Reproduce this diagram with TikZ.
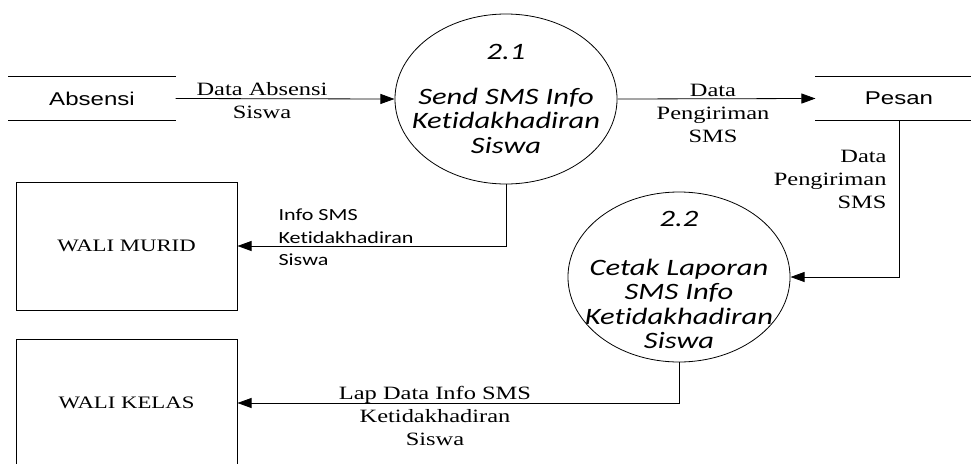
\documentclass[tikz,border=0pt]{standalone}
\usepackage{fontspec}
\newfontfamily\storefont{Liberation Sans}
\newfontfamily\procfont[Ligatures=NoCommon]{Carlito}
\newfontfamily\flowfont{Liberation Serif}
\usetikzlibrary{positioning,shapes.geometric,arrows.meta}

\begin{document}
\begin{tikzpicture}[x=1pt,y=-1pt,line width=0.8pt,
    wide/.style={xscale=1.3},
    store/.style={wide,minimum width=127.7pt,minimum height=43pt,inner sep=0pt,
      font=\storefont\fontsize{18.5}{22}\selectfont},
    process/.style={wide,draw,ellipse,minimum width=170.8pt,minimum height=170pt,inner sep=0pt},
    proctext/.style={wide,inner sep=0pt,align=center,
      font=\procfont\itshape\fontsize{23.5}{24.5}\selectfont},
    entity/.style={wide,draw,rectangle,minimum width=170pt,minimum height=128pt,
      inner sep=0pt,font=\flowfont\fontsize{17.5}{22}\selectfont},
    flowlabel/.style={wide,inner sep=0pt,align=center,font=\flowfont\fontsize{18.8}{23}\selectfont},
    flow/.style={-{Triangle[length=14pt,width=10pt]}}]
    \useasboundingbox (0,0) rectangle (971,463);

    %data stores
    \node[store] (absensi) at (92,98.5) {Absensi};
    \node[store] (pesan) at (899,98.5) {Pesan};
    \foreach \s in {absensi,pesan} {
      \draw (\s.north west) -- (\s.north east) (\s.south west) -- (\s.south east);
    }

    %processes
    \node[process] (p21) at (506,99) {};
    \node[proctext] (t21) at (p21) {2.1\\[20pt]Send SMS Info\\Ketidakhadiran\\Siswa};
    \node[process] (p22) at (679,277) {};
    \node[proctext] (t22) at ([yshift=-3pt]p22) {2.2\\[24pt]Cetak Laporan\\SMS Info\\Ketidakhadiran\\Siswa};

    %external entities
    \node[entity] (murid) at (126.5,246) {WALI MURID};
    \node[entity] (kelas) at (126.5,403) {WALI KELAS};

    %data flows
    \draw[flow] (absensi.east) -- (p21.west);
    \draw[flow] (p21.east) -- (pesan.west);
    \draw[flow] (pesan.south) |- (p22.east);
    \draw[flow] (p21.south) |- (murid.east);
    \draw[flow] (p22.south) |- (kelas.east);

    %flow labels
    \node[flowlabel] (lbabsen) at (262,100.5) {Data Absensi\\Siswa};
    \node[flowlabel] (lbkirim) at (713,113.5) {Data\\Pengiriman\\SMS};
    \node[flowlabel,anchor=east,align=right] (lbpesan) at (887,179) {Data\\Pengiriman\\SMS};
    \node[flowlabel,anchor=west,align=left,font=\procfont\fontsize{17}{22.5}\selectfont]
      (lbinfo) at (278,237.5) {Info SMS\\Ketidakhadiran\\Siswa};
    \node[flowlabel] (lblap) at (435,416) {Lap Data Info SMS\\Ketidakhadiran\\Siswa};
\end{tikzpicture}
\end{document}
